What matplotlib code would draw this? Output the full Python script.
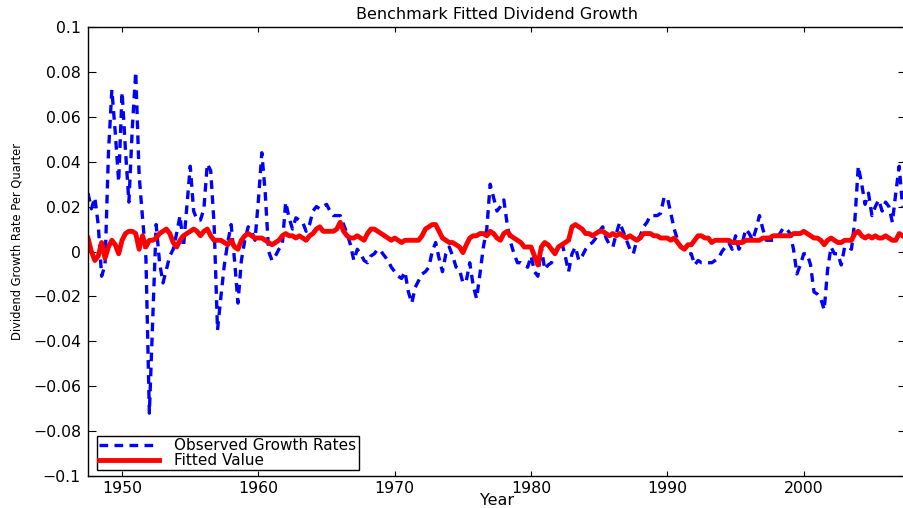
import numpy as np
import matplotlib
matplotlib.use("Agg")
import matplotlib.pyplot as plt

# quarterly observations, first quarter plotted at 1947.5
start_year = 1947.5

observed = [
    0.026, 0.019, 0.024, 0.012, -0.011, -0.006, 0.044, 0.072, 0.053, 0.031,
    0.071, 0.045, 0.022, 0.055, 0.080, 0.034, 0.015, -0.003, -0.072, -0.030,
    0.012, -0.005, -0.014, -0.008, -0.002, 0.001, 0.008, 0.016, 0.002, 0.020,
    0.038, 0.018, 0.014, 0.014, 0.019, 0.039, 0.036, 0.012, -0.035, -0.020,
    -0.006, 0.004, 0.012, -0.004, -0.023, -0.004, 0.005, 0.011, 0.009, 0.005,
    0.023, 0.044, 0.026, 0.000, -0.004, -0.002, 0.001, 0.003, 0.022, 0.015,
    0.010, 0.015, 0.014, 0.013, 0.009, 0.012, 0.018, 0.020, 0.019, 0.020,
    0.021, 0.018, 0.016, 0.016, 0.016, 0.012, 0.008, 0.003, -0.004, 0.001,
    -0.001, -0.004, -0.005, -0.002, -0.001, 0.001, 0.000, -0.002, -0.004, -0.007,
    -0.009, -0.011, -0.012, -0.009, -0.018, -0.023, -0.016, -0.013, -0.010, -0.009,
    -0.007, 0.000, 0.004, -0.003, -0.009, -0.001, 0.002, -0.002, -0.007, -0.008,
    -0.014, -0.013, -0.005, -0.015, -0.021, -0.010, 0.002, 0.010, 0.030, 0.024,
    0.018, 0.020, 0.023, 0.012, 0.004, -0.001, -0.005, -0.005, -0.006, -0.007,
    -0.002, -0.009, -0.011, 0.002, -0.008, -0.006, -0.005, -0.001, 0.002, 0.004,
    -0.002, -0.009, -0.001, 0.002, -0.004, -0.002, 0.001, 0.003, 0.004, 0.006,
    0.009, 0.011, 0.006, 0.003, 0.002, 0.008, 0.013, 0.009, 0.005, 0.001,
    -0.001, 0.005, 0.007, 0.011, 0.013, 0.016, 0.016, 0.016, 0.017, 0.024,
    0.024, 0.017, 0.010, 0.005, 0.002, 0.001, -0.001, -0.001, -0.006, -0.004,
    -0.005, -0.005, -0.005, -0.005, -0.004, -0.003, 0.000, 0.002, 0.004, 0.001,
    0.007, 0.001, 0.004, 0.010, 0.008, 0.005, 0.010, 0.016, 0.010, 0.005,
    0.005, 0.005, 0.006, 0.008, 0.0105, 0.010, 0.008, 0.001, -0.010, -0.006,
    -0.001, -0.001, -0.006, -0.018, -0.019, -0.021, -0.026, -0.008, 0.002, -0.001,
    -0.001, -0.006, 0.002, 0.002, 0.001, 0.014, 0.038, 0.030, 0.021, 0.026,
    0.016, 0.020, 0.023, 0.018, 0.022, 0.020, 0.013, 0.026, 0.038, 0.020,
]

fitted = [
    0.006, 0.000, -0.004, -0.002, 0.004, -0.003, 0.002, 0.005, 0.003, -0.001,
    0.005, 0.008, 0.009, 0.009, 0.008, 0.001, 0.007, 0.002, 0.005, 0.005,
    0.006, 0.008, 0.009, 0.010, 0.008, 0.004, 0.002, 0.005, 0.007, 0.008,
    0.009, 0.010, 0.009, 0.007, 0.009, 0.010, 0.007, 0.005, 0.005, 0.005,
    0.004, 0.003, 0.005, 0.002, 0.001, 0.005, 0.007, 0.008, 0.007, 0.006,
    0.006, 0.006, 0.005, 0.004, 0.003, 0.004, 0.005, 0.007, 0.008, 0.007,
    0.007, 0.006, 0.007, 0.006, 0.005, 0.007, 0.008, 0.010, 0.011, 0.009,
    0.009, 0.009, 0.009, 0.010, 0.013, 0.009, 0.007, 0.006, 0.006, 0.007,
    0.006, 0.005, 0.008, 0.010, 0.010, 0.009, 0.008, 0.007, 0.006, 0.005,
    0.006, 0.005, 0.004, 0.005, 0.005, 0.005, 0.005, 0.005, 0.007, 0.010,
    0.011, 0.012, 0.012, 0.009, 0.006, 0.005, 0.004, 0.004, 0.003, 0.002,
    -0.0005, 0.003, 0.006, 0.007, 0.007, 0.008, 0.008, 0.007, 0.009, 0.008,
    0.006, 0.005, 0.008, 0.009, 0.007, 0.006, 0.005, 0.004, 0.002, 0.002,
    0.002, -0.002, -0.006, 0.002, 0.004, 0.003, 0.001, -0.001, 0.002, 0.003,
    0.004, 0.005, 0.011, 0.012, 0.011, 0.010, 0.008, 0.008, 0.007, 0.008,
    0.009, 0.009, 0.008, 0.007, 0.008, 0.007, 0.008, 0.007, 0.006, 0.007,
    0.006, 0.005, 0.006, 0.008, 0.008, 0.008, 0.007, 0.007, 0.006, 0.006,
    0.006, 0.005, 0.006, 0.004, 0.002, 0.001, 0.003, 0.003, 0.005, 0.007,
    0.007, 0.006, 0.006, 0.004, 0.005, 0.005, 0.005, 0.005, 0.005, 0.004,
    0.004, 0.004, 0.004, 0.005, 0.005, 0.005, 0.005, 0.005, 0.006, 0.006,
    0.006, 0.007, 0.007, 0.007, 0.007, 0.007, 0.007, 0.008, 0.008, 0.008,
    0.009, 0.008, 0.007, 0.006, 0.006, 0.005, 0.003, 0.005, 0.006, 0.005,
    0.004, 0.004, 0.005, 0.005, 0.005, 0.008, 0.009, 0.007, 0.006, 0.007,
    0.006, 0.007, 0.006, 0.006, 0.007, 0.006, 0.005, 0.005, 0.008, 0.007,
]

x_ticks = [1950, 1960, 1970, 1980, 1990, 2000]
y_ticks = [-0.1, -0.08, -0.06, -0.04, -0.02, 0, 0.02, 0.04, 0.06, 0.08, 0.1]
y_tick_labels = ["\u22120.1", "\u22120.08", "\u22120.06", "\u22120.04", "\u22120.02", "0",
                 "0.02", "0.04", "0.06", "0.08", "0.1"]

years = start_year + 0.25 * np.arange(len(observed))

plt.rcParams["font.family"] = "DejaVu Sans"

fig = plt.figure(figsize=(9.04, 5.08), dpi=100)
ax = fig.add_axes([88 / 904, 32 / 508, 818 / 904, 449 / 508])

ax.plot(years, observed, color="#0000ff", linewidth=2.4, linestyle="--",
        dashes=(2.6, 1.9), label="Observed Growth Rates")
ax.plot(years, fitted, color="#ff0000", linewidth=3.5, label="Fitted Value",
        solid_joinstyle="round")

ax.set_xlim(1947.5, 2007.5)
ax.set_ylim(-0.1, 0.1)
ax.set_xticks(x_ticks)
ax.set_yticks(y_ticks)
ax.set_yticklabels(y_tick_labels)
ax.tick_params(direction="in", width=0.8, top=True, right=True, labelsize=11.3)
ax.tick_params(axis="x", length=3.6, pad=3.5)
ax.tick_params(axis="y", length=5.8, pad=5)
for s in ax.spines.values():
    s.set_linewidth(1.0)

ax.set_title("Benchmark Fitted Dividend Growth", fontsize=11.5, pad=6)
ax.set_xlabel("Year", fontsize=11.5, labelpad=-2)
ax.set_ylabel("Dividend Growth Rate Per Quarter", fontsize=8.3)
ax.yaxis.set_label_coords(-0.079, 0.523)

leg = ax.legend(loc="lower left", bbox_to_anchor=(0.011, 0.013), borderaxespad=0,
                fontsize=11, frameon=True, fancybox=False, framealpha=1,
                borderpad=0.15, labelspacing=0.0, handlelength=3.9,
                handletextpad=1.0)
leg.get_frame().set_edgecolor("black")
leg.get_frame().set_linewidth(1.0)

fig.savefig("out.png", dpi=100)
